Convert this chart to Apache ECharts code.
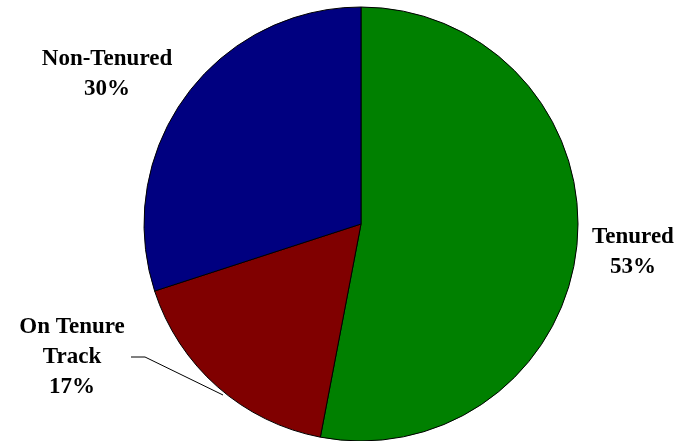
<!DOCTYPE html>
<html><head><meta charset="utf-8">
<script src="https://cdn.jsdelivr.net/npm/echarts@6/dist/echarts.min.js"></script>
<style>html,body{margin:0;padding:0;background:#fff}#c{width:681px;height:441px}</style>
</head><body><div id="c"></div>
<script>
const categories = ['Tenured', 'On Tenure\nTrack', 'Non-Tenured'];
const values = [53, 17, 30];
const colors = ['#008000', '#800000', '#000080'];

const labelSpots = [
  {x: 633, y: 252},
  {x: 72, y: 357},
  {x: 107, y: 74}
];

const chart = echarts.init(document.getElementById('c'), null, {renderer: 'canvas'});
chart.setOption({
  animation: false,
  series: [{
    type: 'pie',
    center: [361, 224],
    radius: 217,
    startAngle: 90,
    clockwise: true,
    data: categories.map((n, i) => ({name: n, value: values[i], itemStyle: {color: colors[i]},
      labelLine: {show: i === 1}})),
    itemStyle: {borderColor: '#000', borderWidth: 1},
    label: {
      show: true,
      position: 'outside',
      formatter: p => p.name + '\n' + p.value + '%',
      fontFamily: 'Liberation Serif',
      fontWeight: 'bold',
      fontSize: 23,
      lineHeight: 30,
      color: '#000',
      align: 'center',
      overflow: 'none',
      width: 200
    },
    labelLine: {lineStyle: {color: '#000', width: 1}},
    labelLayout: function (params) {
      const s = labelSpots[params.dataIndex];
      const out = {x: s.x, y: s.y, align: 'center', verticalAlign: 'middle'};
      if (params.dataIndex === 1) {
        out.labelLinePoints = [[223, 395], [145, 357], [131, 357]];
      }
      return out;
    }
  }]
});
</script></body></html>
